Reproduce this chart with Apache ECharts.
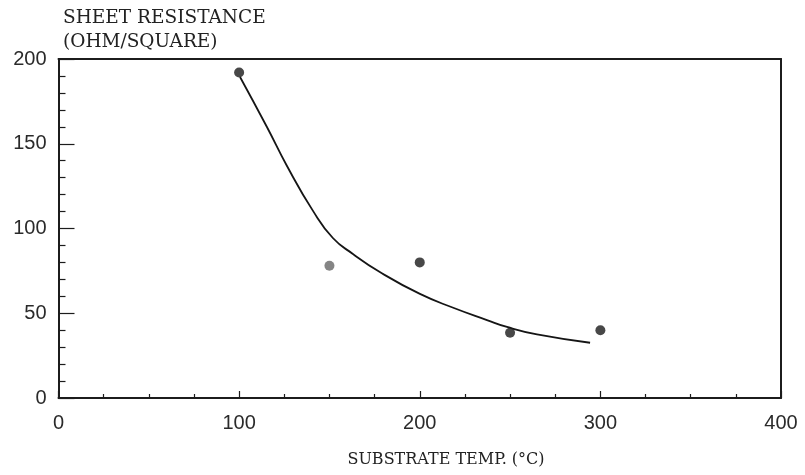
<!DOCTYPE html>
<html>
<head>
<meta charset="utf-8">
<script src="https://cdn.jsdelivr.net/npm/echarts@6/dist/echarts.min.js"></script>
<style>
html,body{margin:0;padding:0;background:#fff;}
#chart{width:805px;height:475px;}
</style>
</head>
<body>
<div id="chart"></div>
<script>
// Measured points
var tempC = [100, 150, 200, 250, 300];
var resistance = [192, 78, 80, 38.5, 40];
// Fitted curve
var curveX = [100.5, 115.4, 126.5, 140.9, 151.9, 163, 177.9, 200.1, 218.9, 237.2, 248.3, 264.9, 294.3];
var curveY = [189.4, 159.9, 136.9, 110.4, 94.4, 85, 74.3, 61.4, 53.1, 46, 41.9, 37.5, 32.6];
var xTicks = [0, 100, 200, 300, 400];
var yTicks = [0, 50, 100, 150, 200];
var yTitle = 'SHEET RESISTANCE\n(OHM/SQUARE)';
var xTitle = 'SUBSTRATE TEMP. (°C)';

var pts = tempC.map(function (t, i) { return [t, resistance[i]]; });
var curve = curveX.map(function (t, i) { return [t, curveY[i]]; });

var chart = echarts.init(document.getElementById('chart'), null, {renderer: 'canvas'});
var axisColor = '#1c1c1c';
var labelStyle = {color: '#2a2a2a', fontFamily: 'Liberation Sans', fontSize: 20};
chart.setOption({
  animation: false,
  backgroundColor: '#ffffff',
  title: [
    {text: yTitle, left: 63, top: 6, padding: 0,
     textStyle: {fontFamily: 'DejaVu Serif', fontSize: 18.5, fontWeight: 'normal', color: '#222', lineHeight: 24}},
    {text: xTitle, left: 446, textAlign: 'center', top: 452, padding: 0,
     textStyle: {fontFamily: 'DejaVu Serif', fontSize: 16, fontWeight: 'normal', color: '#222'}}
  ],
  grid: {left: 58.5, right: 24, top: 59, bottom: 77, containLabel: false},
  xAxis: [{
    type: 'value', min: xTicks[0], max: xTicks[xTicks.length - 1], interval: 100,
    axisLine: {lineStyle: {color: axisColor, width: 2}},
    axisTick: {inside: true, length: 7, lineStyle: {color: axisColor, width: 1.2}},
    minorTick: {show: true, splitNumber: 4, length: 4, lineStyle: {color: axisColor, width: 1.2}},
    splitLine: {show: false},
    axisLabel: Object.assign({margin: 15}, labelStyle)
  }, {
    type: 'value', position: 'top', min: 0, max: 400,
    axisLine: {show: true, onZero: false, lineStyle: {color: axisColor, width: 2}},
    axisTick: {show: false}, axisLabel: {show: false}, splitLine: {show: false}
  }],
  yAxis: [{
    type: 'value', min: yTicks[0], max: yTicks[yTicks.length - 1], interval: 50,
    axisLine: {lineStyle: {color: axisColor, width: 2}},
    axisTick: {inside: true, length: 16, lineStyle: {color: axisColor, width: 1.2}},
    minorTick: {show: true, splitNumber: 5, length: 7, lineStyle: {color: axisColor, width: 1.2}},
    splitLine: {show: false},
    axisLabel: Object.assign({margin: 12}, labelStyle)
  }, {
    type: 'value', position: 'right', min: 0, max: 200,
    axisLine: {show: true, onZero: false, lineStyle: {color: axisColor, width: 2}},
    axisTick: {show: false}, axisLabel: {show: false}, splitLine: {show: false}
  }],
  series: [{
    type: 'line', data: curve, smooth: 0.5, showSymbol: false,
    lineStyle: {color: '#151515', width: 1.8}, z: 2
  }, {
    type: 'scatter', data: pts, symbolSize: 10,
    itemStyle: {color: function (p) { return p.value[0] === 150 ? '#666' : '#1a1a1a'; }}, z: 3
  }]
});
</script>
</body>
</html>
